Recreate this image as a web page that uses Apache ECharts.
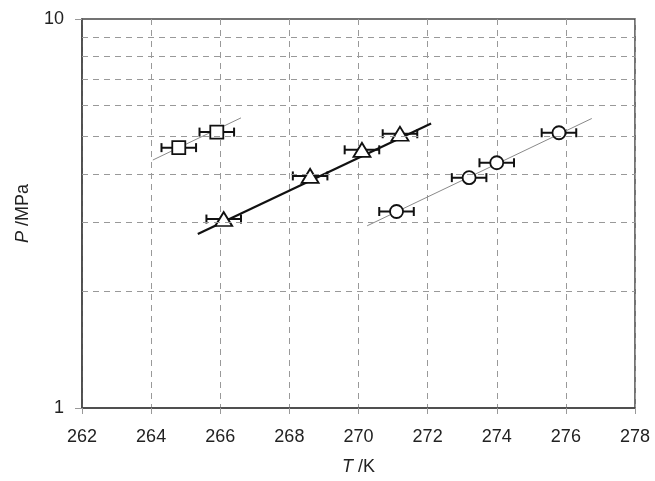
<!DOCTYPE html>
<html><head><meta charset="utf-8">
<script src="https://cdn.jsdelivr.net/npm/echarts@6/dist/echarts.min.js"></script>
<style>html,body{margin:0;padding:0;background:#fff}#c{width:655px;height:481px}</style>
</head><body><div id="c"></div>
<script>
// Data
const squareT = [264.8, 265.9];
const squareP = [4.67, 5.12];
const triT = [266.1, 268.6, 270.1, 271.2];
const triP = [3.06, 3.95, 4.61, 5.07];
const circT = [271.1, 273.2, 274.0, 275.8];
const circP = [3.20, 3.91, 4.27, 5.10];
const errT = 0.5;
const sqFitT = [264.05, 266.6];
const sqFitP = [4.34, 5.57];
const triFitT = [265.35, 272.1];
const triFitP = [2.80, 5.39];
const circFitT = [270.25, 276.75];
const circFitP = [2.94, 5.55];
const gridP = [2, 3, 4, 5, 6, 7, 8, 9];

const zip = (a, b) => a.map((v, i) => [v, b[i]]);
const FONT = '"Liberation Sans", Arial, sans-serif';
const AX = '#454545';

function errSeries(T, P) {
  return {
    type: 'custom', z: 2, silent: true,
    data: zip(T, P),
    renderItem: function (params, api) {
      const t = api.value(0), p = api.value(1);
      const a = api.coord([t - errT, p]);
      const b = api.coord([t + errT, p]);
      const st = {stroke: '#111', lineWidth: 2};
      return {type: 'group', children: [
        {type: 'line', shape: {x1: a[0], y1: a[1], x2: b[0], y2: b[1]}, style: st},
        {type: 'line', shape: {x1: a[0], y1: a[1] - 4.5, x2: a[0], y2: a[1] + 4.5}, style: st},
        {type: 'line', shape: {x1: b[0], y1: b[1] - 4.5, x2: b[0], y2: b[1] + 4.5}, style: st}
      ]};
    }
  };
}
function marker(T, P, symbol, size) {
  return {
    type: 'scatter', z: 3, silent: true, symbol: symbol, symbolSize: size,
    data: zip(T, P),
    itemStyle: {color: '#fff', borderColor: '#111', borderWidth: 1.8, opacity: 1}
  };
}
function fit(T, P, color, width) {
  return {
    type: 'line', z: 1, silent: true, symbol: 'none', data: zip(T, P),
    lineStyle: {color: color, width: width}
  };
}

const chart = echarts.init(document.getElementById('c'), null, {renderer: 'canvas'});
chart.setOption({
  animation: false,
  backgroundColor: '#fff',
  grid: {left: 82, right: 20, top: 19, bottom: 71, show: true, borderColor: AX, borderWidth: 1.5, backgroundColor: 'transparent'},
  xAxis: {
    type: 'value', min: 262, max: 278, interval: 2,
    name: '{i|T} /K', nameLocation: 'middle', nameGap: 50,
    nameTextStyle: {fontFamily: FONT, fontSize: 18, color: '#222', rich: {i: {fontFamily: FONT, fontSize: 18, fontStyle: 'italic', color: '#222'}}},
    axisLine: {show: true, lineStyle: {color: AX, width: 1.5}},
    axisTick: {show: true, inside: false, length: 6, lineStyle: {color: '#999', width: 1}},
    axisLabel: {margin: 20, fontFamily: FONT, fontSize: 18, color: '#222'},
    splitLine: {show: true, lineStyle: {color: '#999', width: 1, type: [6, 5]}}
  },
  yAxis: {
    type: 'log', logBase: 10, min: 1, max: 10,
    name: '{i|P} /MPa', nameLocation: 'middle', nameGap: 50,
    nameTextStyle: {fontFamily: FONT, fontSize: 18, color: '#222', rich: {i: {fontFamily: FONT, fontSize: 18, fontStyle: 'italic', color: '#222'}}},
    axisLine: {show: true, lineStyle: {color: AX, width: 1.5}},
    axisTick: {show: true, inside: false, length: 7, lineStyle: {color: '#999', width: 1}},
    axisLabel: {margin: 18, fontFamily: FONT, fontSize: 18, color: '#222'},
    splitLine: {show: false}
  },
  series: [
    {
      type: 'line', data: [], z: 0, silent: true,
      markLine: {
        silent: true, symbol: 'none', label: {show: false}, animation: false,
        lineStyle: {color: '#999', width: 1, type: [6, 5]},
        data: gridP.map(v => ({yAxis: v}))
      }
    },
    fit(sqFitT, sqFitP, '#8a8a8a', 1),
    fit(triFitT, triFitP, '#111', 2.2),
    fit(circFitT, circFitP, '#8a8a8a', 1),
    errSeries(squareT, squareP),
    errSeries(triT, triP),
    errSeries(circT, circP),
    marker(squareT, squareP, 'rect', 13),
    marker(triT, triP, 'triangle', [17, 14]),
    marker(circT, circP, 'circle', 13)
  ]
});
</script></body></html>
